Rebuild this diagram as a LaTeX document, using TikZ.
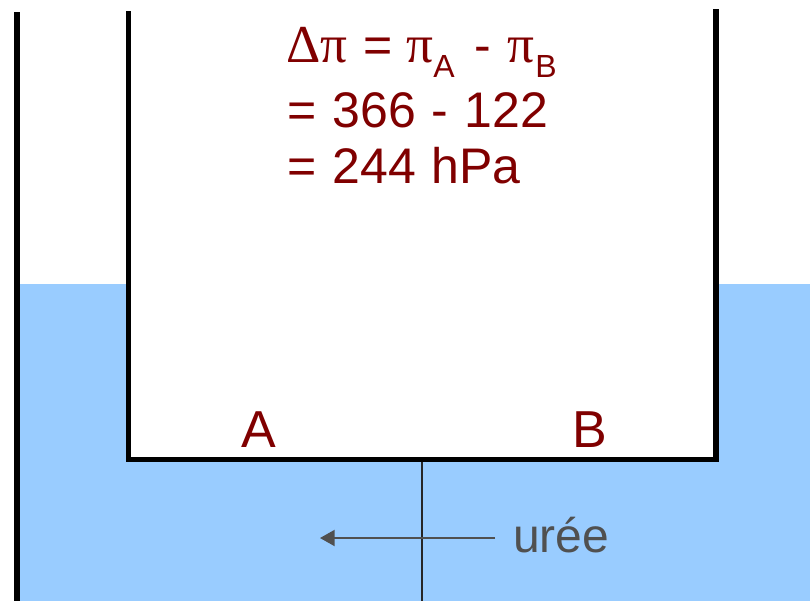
\documentclass[tikz,border=0pt]{standalone}
\usepackage{fontspec}
\setmainfont[WordSpace=1.15]{Liberation Sans}
\newfontfamily\symf{Liberation Serif}
\usetikzlibrary{arrows.meta}
\definecolor{water}{HTML}{99CCFF}
\definecolor{dred}{HTML}{800000}
\definecolor{agray}{HTML}{505050}
\begin{document}
\begin{tikzpicture}[x=0.75pt,y=-0.75pt,
  wall/.style={line width=4.2pt, line cap=butt, line join=miter},
  lbl/.style={text=dred, font=\fontsize{37.5}{40}\selectfont, inner sep=0pt, anchor=base west},
  sym/.style={lbl, font=\symf\fontsize{40}{44}\selectfont},
  sub/.style={lbl, font=\fontsize{24}{26}\selectfont},
  big/.style={lbl, font=\fontsize{39}{42}\selectfont}]
\useasboundingbox (0,0) rectangle (810,601);
\fill[water] (17,284) rectangle (810,601);
\fill[white] (128.5,284) rectangle (716,459.5);
\draw[wall] (17,12) -- (17,601);
\draw[wall] (128.5,11) -- (128.5,459.5) -- (716,459.5) -- (716,9);
\coordinate (m1) at (422,462);
\coordinate (m2) at (422,601);
\draw[line width=1.5pt, black!85] (m1) -- (m2);
% line 1
\node[sym] (dp) at (286,62) {Δπ};
\node[lbl] (eq) at (363,62) {=};
\node[sym] (pa) at (406,62) {π};
\node[sub] (sa) at (433,77) {A};
\node[lbl] (mi) at (474,62) {-};
\node[sym] (pb) at (507,62) {π};
\node[sub] (sb) at (535,77) {B};
% lines 2, 3
\node[lbl] (l2) at (287,127) {= 366 - 122};
\node[lbl] (l3) at (287,183) {= 244 hPa};
% labels
\node[big] (A) at (241,447) {A};
\node[big] (B) at (572,447) {B};
\node[lbl, text=agray, font=\fontsize{36}{40}\selectfont] (u) at (513,552) {urée};
\coordinate (as) at (495,538);
\coordinate (ae) at (320,538);
\draw[agray, line width=1.5pt, -{Triangle[length=11pt,width=12pt]}] (as) -- (ae);
\end{tikzpicture}
\end{document}
